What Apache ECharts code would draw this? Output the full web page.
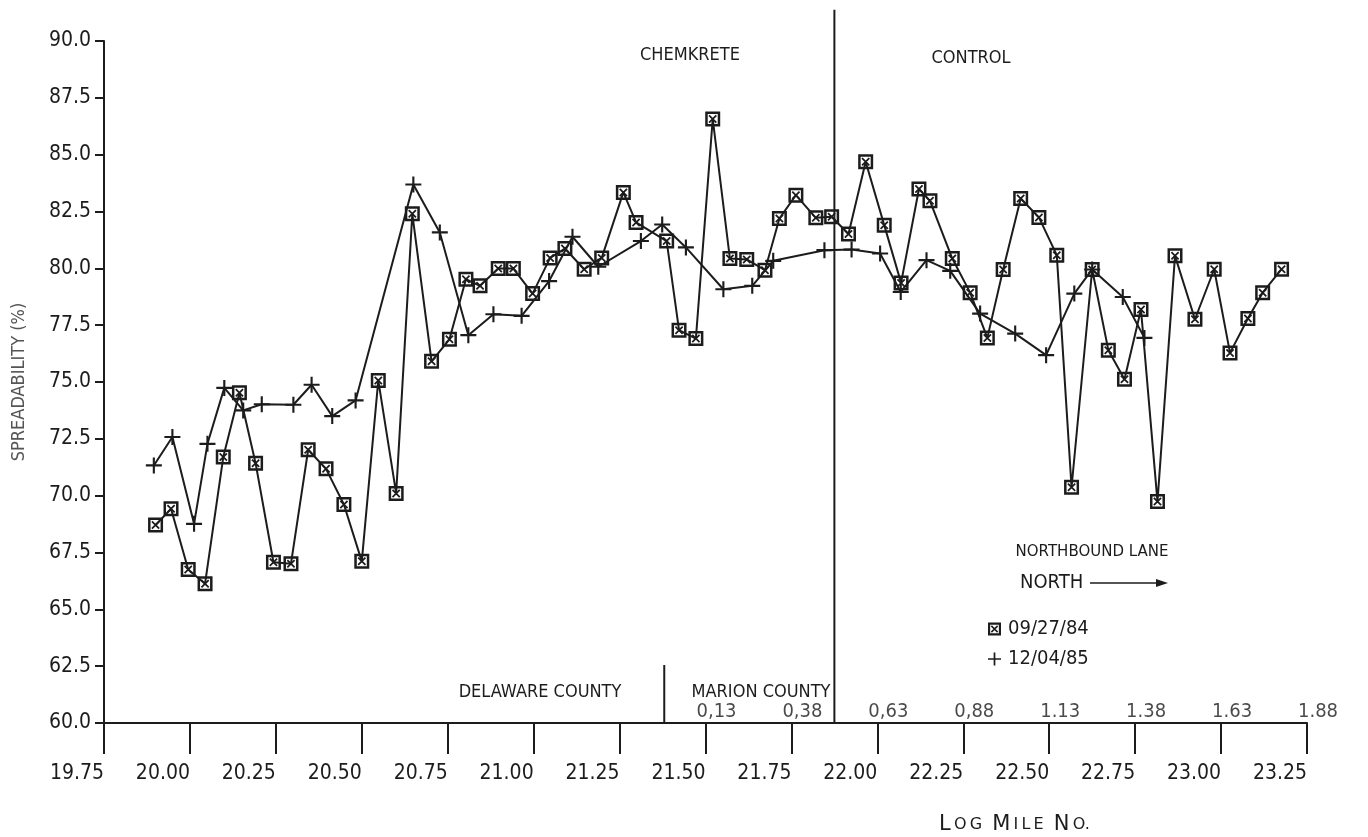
<!DOCTYPE html>
<html>
<head>
<meta charset="utf-8">
<script src="https://cdn.jsdelivr.net/npm/echarts@6/dist/echarts.min.js"></script>
<style>
  html, body { margin: 0; padding: 0; background: #ffffff; }
  #chart { width: 1368px; height: 837px; }
</style>
</head>
<body>
<div id="chart"></div>
<script>
// Spreadability along the northbound lane, by log mile
const squareMiles = [19.900, 19.945, 19.995, 20.044, 20.097, 20.144, 20.191, 20.243, 20.294, 20.344,
  20.396, 20.448, 20.500, 20.548, 20.600, 20.647, 20.703, 20.755, 20.803, 20.844,
  20.897, 20.941, 20.997, 21.048, 21.091, 21.147, 21.198, 21.261, 21.298, 21.387,
  21.423, 21.472, 21.521, 21.571, 21.620, 21.673, 21.715, 21.763, 21.821, 21.867,
  21.916, 21.966, 22.020, 22.069, 22.121, 22.153, 22.218, 22.270, 22.320, 22.366,
  22.417, 22.470, 22.522, 22.565, 22.625, 22.672, 22.719, 22.767, 22.815, 22.866,
  22.924, 22.980, 23.026, 23.078, 23.121, 23.176];
const squareValues = [68.71, 69.42, 66.75, 66.13, 71.70, 74.53, 71.43, 67.07, 67.01, 72.02,
  71.18, 69.61, 67.11, 75.07, 70.10, 82.40, 75.91, 76.88, 79.52, 79.23,
  79.99, 79.99, 78.89, 80.46, 80.87, 79.96, 80.46, 83.34, 82.02, 81.20,
  77.28, 76.91, 86.57, 80.43, 80.39, 79.92, 82.19, 83.22, 82.22, 82.27,
  81.51, 84.69, 81.90, 79.36, 83.49, 82.97, 80.43, 78.93, 76.94, 79.95,
  83.07, 82.24, 80.58, 70.37, 79.95, 76.40, 75.12, 78.19, 69.74, 80.55,
  77.76, 79.96, 76.28, 77.79, 78.93, 79.96];

const plusMiles = [19.895, 19.949, 20.012, 20.051, 20.100, 20.155, 20.209, 20.301, 20.354, 20.414,
  20.482, 20.650, 20.727, 20.810, 20.883, 20.965, 21.045, 21.113, 21.188, 21.312,
  21.374, 21.443, 21.552, 21.636, 21.697, 21.846, 21.925, 22.008, 22.068, 22.143,
  22.212, 22.299, 22.401, 22.491, 22.573, 22.625, 22.714, 22.777];
const plusValues = [71.33, 72.58, 68.76, 72.28, 74.74, 73.75, 74.02, 74.00, 74.88, 73.50,
  74.19, 83.69, 81.58, 77.06, 77.98, 77.91, 79.44, 81.39, 80.07, 81.20,
  81.93, 80.92, 79.08, 79.23, 80.33, 80.80, 80.83, 80.65, 78.96, 80.36,
  79.89, 78.01, 77.13, 76.18, 78.89, 79.95, 78.74, 76.94];

const seriesNames = ['09/27/84', '12/04/85'];

// Marion County mileposts, written above the main mile axis
const marionTickMiles = [21.50, 21.75, 22.00, 22.25, 22.50, 22.75, 23.00, 23.25];
const marionTickLabels = ['0,13', '0,38', '0,63', '0,88', '1.13', '1.38', '1.63', '1.88'];

// Section boundaries (log mile)
const treatmentBoundaryMile = 21.875;
const countyLineMile = 21.38;

const FONT = '"DejaVu Sans Condensed", "Liberation Sans Narrow", "DejaVu Sans", sans-serif';
const WIDE = '"DejaVu Sans", sans-serif';
const INK = '#1c1c1c';

const SQUARE_X = 'path://M0,0L12,0L12,12L0,12Z M2,2L2,10L10,10L10,2Z M2.6,3.6L3.6,2.6L9.4,8.4L8.4,9.4Z M8.4,2.6L9.4,3.6L3.6,9.4L2.6,8.4Z';
const PLUS = 'path://M5.2,0L6.8,0L6.8,12L5.2,12Z M0,5.2L12,5.2L12,6.8L0,6.8Z';

const zip = (xs, ys) => xs.map((x, i) => [x, ys[i]]);
const T = '\u2009'; // thin space between the small-cap letters

const chart = echarts.init(document.getElementById('chart'), null, { renderer: 'canvas' });

chart.setOption({
  animation: false,
  backgroundColor: '#ffffff',
  textStyle: { fontFamily: FONT, color: INK },
  grid: { left: 104, right: 61, top: 41, bottom: 114, containLabel: false },
  title: {
    text: '{a|L}{b|' + T + 'O' + T + 'G  }{a|M}{b|' + T + 'I' + T + 'L' + T + 'E  }{a|N}{b|' + T + 'O.}',
    left: 934,
    top: 809,
    textStyle: {
      fontWeight: 'normal',
      rich: {
        a: { fontFamily: WIDE, fontSize: 21, fontWeight: 'normal', color: INK },
        b: { fontFamily: WIDE, fontSize: 16, fontWeight: 'normal', color: INK }
      }
    }
  },
  legend: {
    orient: 'vertical',
    left: 983,
    top: 614,
    itemGap: 10,
    itemWidth: 13,
    itemHeight: 13,
    selectedMode: false,
    textStyle: { fontFamily: FONT, fontSize: 20, color: INK, padding: [0, 0, 0, 2] },
    data: [
      { name: seriesNames[0], icon: SQUARE_X },
      { name: seriesNames[1], icon: PLUS }
    ]
  },
  xAxis: {
    type: 'value',
    min: 19.75,
    max: 23.25,
    interval: 0.25,
    axisLine: { show: true, lineStyle: { color: INK, width: 2 } },
    axisTick: { show: true, length: 31, lineStyle: { color: INK, width: 2 } },
    axisLabel: {
      show: true,
      margin: 40,
      align: 'right',
      fontFamily: FONT,
      fontSize: 21,
      color: INK,
      showMinLabel: true,
      showMaxLabel: true,
      formatter: v => v.toFixed(2)
    },
    splitLine: { show: false }
  },
  yAxis: {
    type: 'value',
    min: 60,
    max: 90,
    interval: 2.5,
    name: 'SPREADABILITY (%)',
    nameLocation: 'middle',
    nameGap: 76,
    nameRotate: 90,
    nameTextStyle: { fontFamily: FONT, fontSize: 18, color: '#555555' },
    axisLine: { show: true, lineStyle: { color: INK, width: 2 } },
    axisTick: { show: true, length: 9, lineStyle: { color: INK, width: 2 } },
    axisLabel: {
      show: true,
      margin: 13,
      fontFamily: FONT,
      fontSize: 21,
      color: INK,
      formatter: v => v.toFixed(1)
    },
    splitLine: { show: false }
  },
  series: [
    {
      name: seriesNames[0],
      type: 'line',
      data: zip(squareMiles, squareValues),
      symbol: SQUARE_X,
      symbolSize: 15,
      showAllSymbol: true,
      lineStyle: { color: INK, width: 2 },
      itemStyle: { color: INK },
      z: 4
    },
    {
      name: seriesNames[1],
      type: 'line',
      data: zip(plusMiles, plusValues),
      symbol: PLUS,
      symbolSize: 16,
      showAllSymbol: true,
      lineStyle: { color: INK, width: 2 },
      itemStyle: { color: INK },
      z: 3
    },
    {
      name: 'treatment boundary',
      type: 'line',
      data: [[treatmentBoundaryMile, 60], [treatmentBoundaryMile, 91.37]],
      symbol: 'none',
      clip: false,
      silent: true,
      lineStyle: { color: INK, width: 2 },
      z: 2
    },
    {
      name: 'county line',
      type: 'line',
      data: [[countyLineMile, 60], [countyLineMile, 62.55]],
      symbol: 'none',
      clip: false,
      silent: true,
      lineStyle: { color: INK, width: 2 },
      z: 2
    },
    {
      name: 'marion mileposts',
      type: 'scatter',
      data: marionTickMiles.map((m, i) => [m, 60, marionTickLabels[i]]),
      symbolSize: 1,
      silent: true,
      itemStyle: { color: 'rgba(0,0,0,0)' },
      label: {
        show: true,
        position: 'top',
        distance: 1,
        offset: [11, 0],
        fontFamily: FONT,
        fontSize: 20,
        color: INK,
        formatter: p => p.data[2]
      },
      z: 2
    }
  ],
  graphic: [
    { type: 'text', x: 690, y: 55, style: { text: 'CHEMKRETE', font: '18px ' + FONT, fill: INK, align: 'center', verticalAlign: 'middle' } },
    { type: 'text', x: 971, y: 58, style: { text: 'CONTROL', font: '18px ' + FONT, fill: INK, align: 'center', verticalAlign: 'middle' } },
    { type: 'text', x: 540, y: 692, style: { text: 'DELAWARE COUNTY', font: '18px ' + FONT, fill: INK, align: 'center', verticalAlign: 'middle' } },
    { type: 'text', x: 761, y: 692, style: { text: 'MARION COUNTY', font: '18px ' + FONT, fill: INK, align: 'center', verticalAlign: 'middle' } },
    { type: 'text', x: 1092, y: 552, style: { text: 'NORTHBOUND LANE', font: '15px ' + WIDE, fill: INK, align: 'center', verticalAlign: 'middle' } },
    { type: 'text', x: 1020, y: 583, style: { text: 'NORTH', font: '20px ' + FONT, fill: INK, align: 'left', verticalAlign: 'middle' } },
    { type: 'line', shape: { x1: 1090, y1: 583, x2: 1160, y2: 583 }, style: { stroke: INK, lineWidth: 1.5 } },
    { type: 'polygon', shape: { points: [[1156, 579], [1168, 583], [1156, 587]] }, style: { fill: INK } }
  ]
});
</script>
</body>
</html>
